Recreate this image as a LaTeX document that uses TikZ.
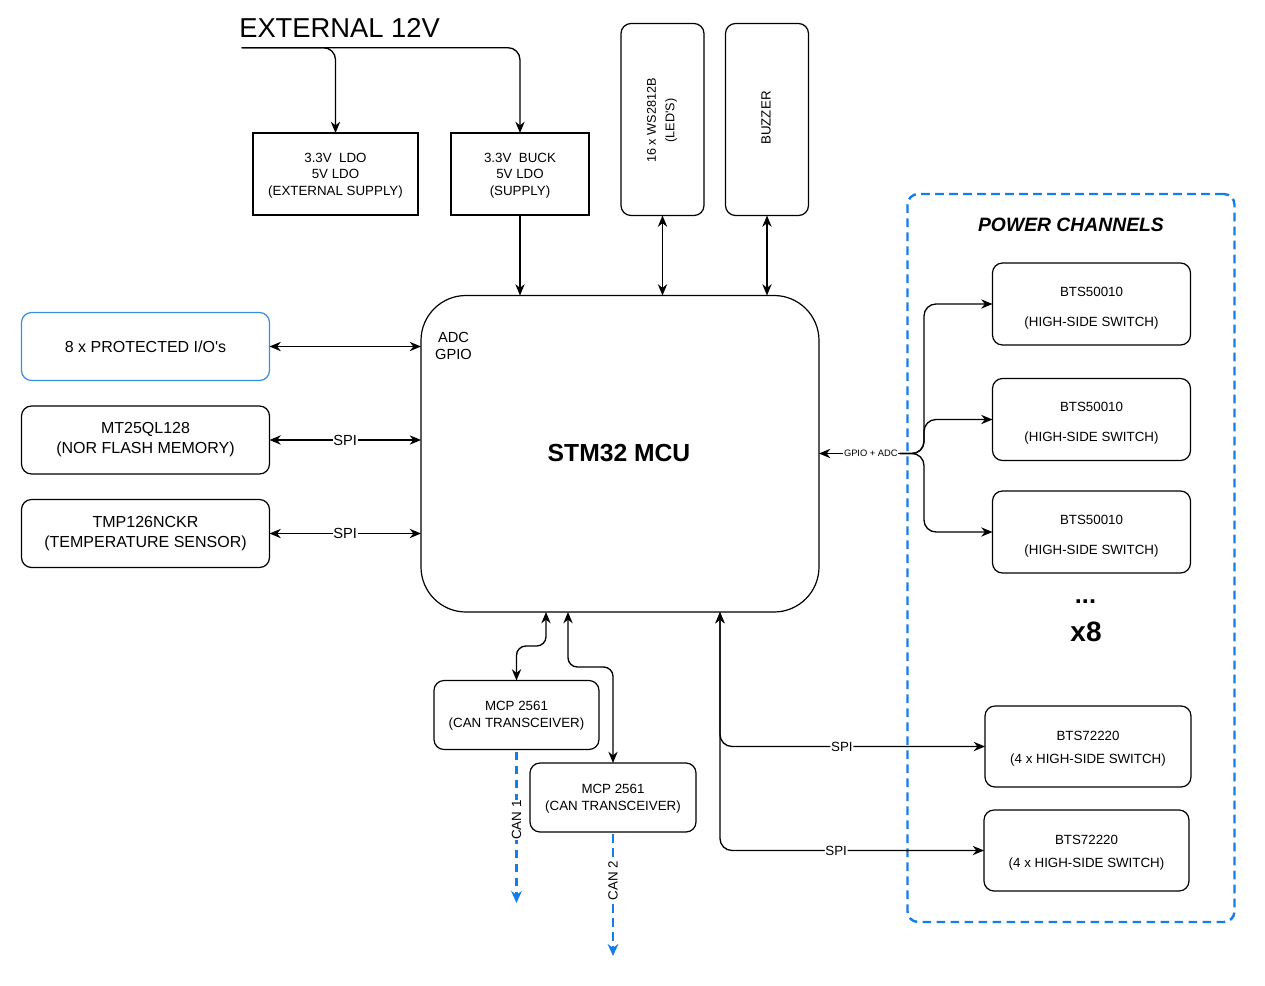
\documentclass[tikz,border=0pt]{standalone}
\usepackage{fontspec}
\setmainfont{Liberation Sans}
\usetikzlibrary{arrows.meta}
\definecolor{dblue}{RGB}{20,125,235}
\definecolor{ioblue}{RGB}{51,140,230}
\begin{document}
\begin{tikzpicture}[x=0.75pt,y=-0.75pt,
  every node/.style={font=\fontsize{10pt}{12pt}\selectfont},
  blk/.style={draw, line width=0.9pt, inner sep=0pt, outer sep=0pt, align=center},
  rbox/.style={blk, rounded corners=7.5pt},
  sz/.style 2 args={minimum width=#1*0.75pt, minimum height=#2*0.75pt},
  txt/.style={align=center, inner sep=0pt},
  conn/.style={line width=1pt, -{Stealth[length=8.5pt,width=7pt]}},
  bconn/.style={line width=1pt, {Stealth[length=8.5pt,width=7pt]}-{Stealth[length=8.5pt,width=7pt]}},
  lbl/.style={fill=white, inner sep=0.5pt, font=\fontsize{11pt}{13pt}\selectfont},
  lbls/.style={fill=white, inner sep=0.5pt, font=\fontsize{10pt}{12pt}\selectfont},
  blued/.style={draw=dblue, line width=1.8pt, dash pattern=on 6.5pt off 4pt},
  canline/.style={blued, shorten <=1.5pt, -{Stealth[length=9pt,width=8pt,fill=dblue]}},
  canlbl/.style={fill=white, inner sep=0.5pt, rotate=90, font=\fontsize{10pt}{12pt}\selectfont}
]
\useasboundingbox (0,0) rectangle (1265,986);

% power supply
\node[font=\fontsize{20.5pt}{24pt}\selectfont, anchor=base west, inner sep=0pt] (ext) at (239,37) {EXTERNAL 12V};
\node[blk, sz={165}{82}] (ldo) at (335.5,174) {};
\node[txt, font=\fontsize{10pt}{12.4pt}\selectfont] (ldot) at (335.5,175.5) {3.3V~~LDO\\5V LDO\\(EXTERNAL SUPPLY)};
\node[blk, sz={138}{82}] (buck) at (520,174) {};
\node[txt, font=\fontsize{10pt}{12.4pt}\selectfont] (buckt) at (520,175.5) {3.3V~~BUCK\\5V LDO\\(SUPPLY)};
\coordinate (src) at (241.5,47.7);
\draw[conn, rounded corners=9pt] (src) -| (ldo.north);
\draw[conn, rounded corners=9pt] (src) -| (buck.north);

% MCU
\node[blk, rounded corners=33.75pt, sz={398}{316.5}] (mcu) at (620,453.75) {};
\node[font=\bfseries\fontsize{18.5pt}{22pt}\selectfont] (mcut) at (619,453) {STM32 MCU};
\node[font=\fontsize{11pt}{13pt}\selectfont, align=center] (adc) at (453.5,346) {ADC\\GPIO};
\draw[conn] (buck.south) -- (buck.south |- mcu.north);

% LEDs and buzzer
\node[rbox, sz={83}{192}] (led) at (662.5,119.5) {};
\node[rotate=90, align=center, font=\fontsize{9.5pt}{14pt}\selectfont] (ledt) at (662,120.5) {16 x WS2812B\\(LED\textquotesingle S)};
\node[rbox, sz={83}{192}] (buzz) at (767,119.5) {};
\node[rotate=90] (buzzt) at (766,118) {BUZZER};
\draw[bconn] (led.south) -- (led.south |- mcu.north);
\draw[bconn] (buzz.south) -- (buzz.south |- mcu.north);

% left peripherals
\node[rbox, draw=ioblue, sz={248}{68}, font=\fontsize{12pt}{15pt}\selectfont] (pio) at (145.5,346.5) {8 x PROTECTED I/O\textquotesingle s};
\node[rbox, sz={248}{68}, font=\fontsize{12pt}{15pt}\selectfont] (flash) at (145.5,440) {MT25QL128\\(NOR FLASH MEMORY)};
\node[rbox, sz={248}{68}, font=\fontsize{12pt}{14.5pt}\selectfont] (temp) at (145.5,533.5) {TMP126NCKR\\(TEMPERATURE SENSOR)};
\draw[bconn] (pio.east) -- (pio.east -| mcu.west);
\draw[bconn] (flash.east) -- (flash.east -| mcu.west) node[midway, lbl] {SPI};
\draw[bconn] (temp.east) -- (temp.east -| mcu.west) node[midway, lbl] {SPI};

% power channels
\node[blued, rounded corners=8pt, inner sep=0pt, sz={327}{728}] (pc) at (1071,558) {};
\node[font=\bfseries\itshape\fontsize{14.5pt}{17pt}\selectfont] (pct) at (1071,225) {POWER CHANNELS};
\node[rbox, sz={198}{82}] (b1) at (1091.5,304) {};
\node[txt] (b1t) at (1091.5,308) {BTS50010\\[10.5pt](HIGH-SIDE SWITCH)};
\node[rbox, sz={198}{82}] (b2) at (1091.5,419.5) {};
\node[txt] (b2t) at (1091.5,423.5) {BTS50010\\[10.5pt](HIGH-SIDE SWITCH)};
\node[rbox, sz={198}{82}] (b3) at (1091.5,532) {};
\node[txt] (b3t) at (1091.5,536) {BTS50010\\[10.5pt](HIGH-SIDE SWITCH)};
\node[font=\bfseries\fontsize{19pt}{22pt}\selectfont, inner sep=0pt] (dots) at (1085.5,601.7) {...};
\node[font=\bfseries\fontsize{21pt}{24pt}\selectfont, inner sep=0pt] (x8) at (1086,631.5) {x8};
\node[rbox, sz={206}{81}] (ba) at (1088,746.5) {};
\node[txt] (bat) at (1088,749) {BTS72220\\[5.25pt](4 x HIGH-SIDE SWITCH)};
\node[rbox, sz={205}{81}] (bb) at (1086.5,850.5) {};
\node[txt] (bbt) at (1086.5,853) {BTS72220\\[5.25pt](4 x HIGH-SIDE SWITCH)};

\coordinate (split) at (900,453.5);
\coordinate (bus) at (924,453.5);
\draw[conn] (split) -- (split -| mcu.east) node[pos=0.36, fill=white, inner sep=0.5pt, font=\fontsize{7pt}{8pt}\selectfont] {GPIO + ADC};
\draw[conn, rounded corners=9pt] (split) -- (bus) |- (b1.west);
\draw[conn, rounded corners=9pt] (split) -- (bus) |- (b2.west);
\draw[conn, rounded corners=9pt] (split) -- (bus) |- (b3.west);

\coordinate (spix) at (720,700);
\draw[bconn, rounded corners=9pt] (mcu.south -| spix) |- (ba.west) node[pos=0.73, lbls] {SPI};
\draw[bconn, rounded corners=9pt] (mcu.south -| spix) |- (bb.west) node[pos=0.72, lbls] {SPI};

% CAN
\node[rbox, sz={165}{69}] (can1) at (516.5,715) {};
\node[txt, font=\fontsize{10pt}{12.75pt}\selectfont] (can1t) at (516.5,716) {MCP 2561\\(CAN TRANSCEIVER)};
\node[rbox, sz={166}{69}] (can2) at (613,797.5) {};
\node[txt, font=\fontsize{10pt}{12.75pt}\selectfont] (can2t) at (613,798.5) {MCP 2561\\(CAN TRANSCEIVER)};
\coordinate (k1) at (546,646);
\coordinate (k2) at (568,667);
\draw[bconn, rounded corners=7pt] (mcu.south -| k1) -- (k1) -| (can1.north);
\draw[bconn, rounded corners=7pt] (mcu.south -| k2) -- (k2) -| (can2.north);
\coordinate (c1end) at (516.5,903);
\coordinate (c2end) at (613,956);
\draw[canline] (can1.south) -- (c1end) node[pos=0.46, canlbl] {CAN 1};
\draw[canline] (can2.south) -- (c2end) node[pos=0.39, canlbl] {CAN 2};
\end{tikzpicture}
\end{document}
